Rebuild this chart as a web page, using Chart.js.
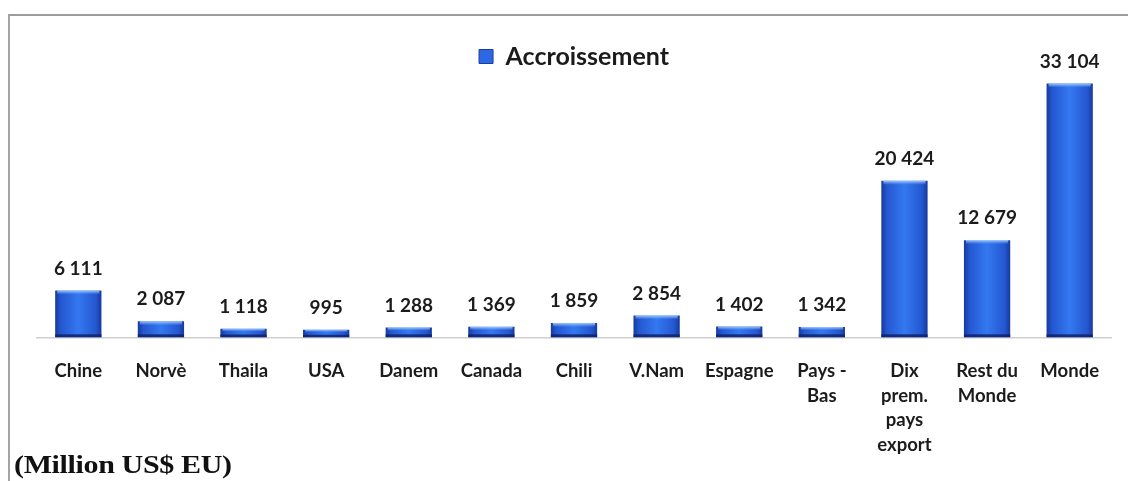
<!DOCTYPE html>
<html>
<head>
<meta charset="utf-8">
<script src="https://cdn.jsdelivr.net/npm/chart.js@4.4.1/dist/chart.umd.min.js"></script>
<style>
  html, body { margin: 0; padding: 0; background: #ffffff; }
  #wrap { position: relative; width: 1128px; height: 481px; overflow: hidden; background: #ffffff; }
  #frame { position: absolute; left: 8px; top: 14px; right: -4px; bottom: -4px;
           border-top: 2px solid #9c9c9c; border-left: 2px solid #a4a4a4; }
  #chart { position: absolute; left: 0; top: 0; }
  #unit { position: absolute; left: 14px; top: 451px; font-family: "Liberation Serif", serif;
          font-weight: bold; font-size: 25px; color: #111; transform: scaleX(1.2);
          transform-origin: left center; white-space: nowrap; letter-spacing: -0.3px; }
</style>
</head>
<body>
<div id="wrap">
  <div id="frame"></div>
  <canvas id="chart" width="1128" height="481"></canvas>
  <div id="unit">(Million US$ EU)</div>
</div>
<script>
// Growth of exports by country (million US$)
const categories = [
  'Chine', 'Norvè', 'Thaila', 'USA', 'Danem', 'Canada', 'Chili', 'V.Nam',
  'Espagne', ['Pays -', 'Bas'], ['Dix', 'prem.', 'pays', 'export'],
  ['Rest du', 'Monde'], 'Monde'
];
const seriesName = 'Accroissement';
const growth = [6111, 2087, 1118, 995, 1288, 1369, 1859, 2854, 1402, 1342, 20424, 12679, 33104];

const FONT = 'Lato';

function fmt(v) {
  return String(v).replace(/\B(?=(\d{3})+(?!\d))/g, ' ');
}

// Horizontal shading on each bar: darker edges, brighter middle
function barFill(ctx) {
  const chart = ctx.chart;
  const xs = chart.scales.x;
  if (!chart.chartArea || !xs) return '#2d68e2';
  const cx = xs.getPixelForValue(ctx.dataIndex);
  const half = (xs.width / categories.length) * 0.56 / 2;
  const g = chart.ctx.createLinearGradient(cx - half, 0, cx + half, 0);
  g.addColorStop(0, '#17399c');
  g.addColorStop(0.12, '#2457d0');
  g.addColorStop(0.5, '#3478f0');
  g.addColorStop(0.88, '#2457d0');
  g.addColorStop(1, '#17399c');
  return g;
}

// Highlight on bar tops, dark rim at bottoms, and value labels above
const barDecor = {
  id: 'barDecor',
  afterDatasetsDraw(chart) {
    const c = chart.ctx;
    const meta = chart.getDatasetMeta(0);
    c.save();
    meta.data.forEach((bar, i) => {
      const left = bar.x - bar.width / 2;
      const h = bar.base - bar.y;
      const hl = Math.min(4, h / 3);
      const tg = c.createLinearGradient(0, bar.y, 0, bar.y + hl);
      tg.addColorStop(0, 'rgba(170,210,255,0.95)');
      tg.addColorStop(1, 'rgba(120,175,255,0)');
      c.fillStyle = tg;
      c.fillRect(left + 2, bar.y, bar.width - 4, hl);
      c.fillStyle = 'rgba(14,34,110,0.85)';
      c.fillRect(left, bar.base - Math.min(3, h / 3), bar.width, Math.min(3, h / 3));

      c.fillStyle = '#1b1b1b';
      c.font = 'bold 19px ' + FONT;
      c.textAlign = 'center';
      c.textBaseline = 'middle';
      c.fillText(fmt(growth[i]), bar.x, bar.y - 22);
    });
    c.restore();
  }
};

new Chart(document.getElementById('chart'), {
  type: 'bar',
  data: {
    labels: categories,
    datasets: [{
      label: seriesName,
      data: growth,
      backgroundColor: barFill,
      borderWidth: 0,
      categoryPercentage: 0.56,
      barPercentage: 1
    }]
  },
  options: {
    responsive: false,
    animation: false,
    layout: { padding: { left: 37, right: 17, top: 34, bottom: 2 } },
    plugins: {
      tooltip: { enabled: false },
      legend: {
        position: 'top',
        align: 'center',
        labels: {
          boxWidth: 14,
          boxHeight: 14,
          padding: 10,
          color: '#1b1b1b',
          font: { family: FONT, weight: 'bold', size: 25 },
          generateLabels(chart) {
            return chart.data.datasets.map((ds, i) => ({
              text: ds.label,
              fillStyle: '#2d68e2',
              strokeStyle: '#1a3c9e',
              lineWidth: 1,
              datasetIndex: i,
              fontColor: '#1b1b1b'
            }));
          }
        }
      }
    },
    scales: {
      x: {
        grid: { display: false, drawTicks: false },
        border: { display: true, color: '#cfcfcf', width: 1.5 },
        ticks: {
          autoSkip: false,
          maxRotation: 0,
          minRotation: 0,
          padding: 22,
          color: '#1b1b1b',
          font: { family: FONT, weight: 'bold', size: 18.5, lineHeight: 1.32 }
        }
      },
      y: {
        display: false,
        min: 0,
        max: 33700
      }
    }
  },
  plugins: [barDecor]
});
</script>
</body>
</html>
